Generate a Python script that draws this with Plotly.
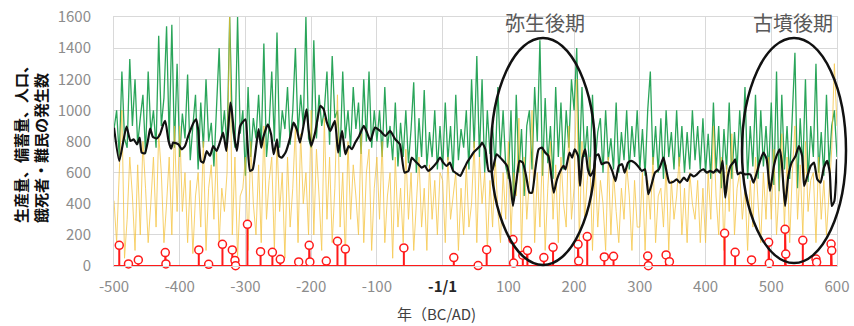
import plotly.graph_objects as go

# ---------------- data ----------------
X_RANGE = [-500, 600]
Y_RANGE = [0, 1600]

# production (green), read every 4 years
prod_years = list(range(-500, 601, 4)) + [600]
prod_values = [
    880, 1000, 700, 1250, 820, 760, 1330, 900, 1200, 780, 950, 1100, 720, 1250, 860, 1000, 760, 1480, 900, 1080, 1540, 800, 1550, 760, 1300,
    700, 980, 820, 1230, 680, 900, 1100, 620, 1050, 760, 1200, 800, 920, 640, 1020, 1400, 820, 1000, 760, 1600, 900, 760, 1600, 850, 1000,
    580, 1150, 700, 950, 820, 1100, 760, 1430, 700, 900, 1250, 800, 1500, 760, 1000, 880, 1150, 780, 1000, 1400, 850, 1100, 900, 1600, 820,
    760, 1450, 820, 1100, 900, 1000, 1250, 780, 1350, 950, 1000, 700, 1250, 820, 1000, 760, 1150, 880, 1050, 720, 1200, 800, 1250, 760, 1000,
    800, 1000, 700, 1150, 760, 900, 680, 1050, 640, 920, 700, 1000, 660, 880, 1180, 600, 950, 700, 1130, 640, 860, 700, 1000, 620, 900,
    620, 1050, 680, 900, 600, 1100, 680, 880, 760, 1000, 620, 1200, 760, 1350, 700, 1200, 600, 1000, 720, 900, 640, 1150, 700, 1000, 640,
    560, 1000, 420, 1100, 600, 880, 450, 900, 1000, 620, 1150, 800, 1450, 580, 1080, 660, 900, 560, 1150, 700, 1050, 620, 1000, 760, 1200,
    1000, 1400, 620, 1150, 700, 900, 580, 1100, 650, 860, 950, 600, 1000, 680, 820, 620, 1050, 600, 860, 680, 1000, 620, 900, 700, 1000,
    620, 880, 580, 1000, 1250, 650, 900, 600, 950, 560, 1000, 700, 860, 620, 1000, 640, 900, 600, 860, 620, 1000, 680, 900, 620, 950,
    600, 850, 560, 1050, 600, 900, 500, 880, 620, 1050, 560, 860, 620, 1000, 700, 1150, 560, 900, 640, 1100, 560, 1000, 640, 900, 600,
    1050, 520, 1250, 480, 1100, 620, 900, 560, 1000, 1370, 500, 950, 620, 1200, 540, 900, 700, 1300, 600, 860, 580, 1100, 640, 900, 1000,
    700,
]

# stock (yellow), read every 4 years
stock_years = list(range(-500, 601, 4)) + [600]
stock_values = [
    420, 150, 600, 1000, 50, 300, 700, 450, 100, 650, 200, 800, 500, 150, 400, 700, 250, 850, 600, 150, 400, 700, 200, 900, 350,
    900, 350, 600, 150, 550, 80, 450, 600, 250, 800, 100, 500, 650, 300, 750, 150, 500, 350, 600, 1600, 200, 700, 50, 450, 500,
    700, 100, 800, 400, 200, 650, 150, 900, 300, 550, 700, 100, 800, 350, 600, 50, 700, 250, 500, 900, 150, 850, 400, 600, 200,
    1000, 200, 750, 450, 100, 950, 300, 700, 150, 500, 1100, 250, 600, 50, 800, 300, 650, 450, 200, 850, 150, 600, 750, 100, 500,
    700, 300, 800, 150, 450, 600, 50, 700, 250, 500, 150, 750, 300, 600, 100, 450, 700, 250, 500, 100, 650, 300, 550, 200, 600,
    550, 150, 700, 300, 450, 600, 100, 500, 200, 650, 250, 400, 800, 150, 700, 400, 600, 100, 550, 250, 700, 350, 150, 600, 300,
    800, 200, 600, 450, 950, 100, 700, 300, 550, 1000, 150, 600, 250, 750, 100, 500, 800, 300, 650, 150, 700, 400, 250, 900, 300,
    500, 1200, 150, 800, 300, 550, 700, 100, 650, 250, 550, 400, 100, 700, 200, 600, 350, 150, 500, 300, 650, 450, 100, 550, 250,
    250, 600, 100, 550, 300, 700, 150, 450, 500, 250, 650, 100, 550, 300, 450, 700, 200, 500, 150, 600, 400, 300, 550, 150, 500,
    150, 600, 300, 900, 450, 200, 700, 100, 650, 350, 850, 200, 500, 600, 300, 500, 100, 550, 250, 700, 400, 150, 600, 300, 700,
    300, 750, 200, 500, 850, 250, 700, 150, 600, 900, 300, 650, 200, 800, 350, 550, 600, 150, 700, 300, 550, 200, 450, 750, 1300,
    900,
]

pop_years = [
    -500, -492, -481, -475, -470, -465, -461, -458, -453, -448, -445, -441, -435, -430, -425, -422, -417, -413,
    -410, -402, -397, -392, -387, -379, -375, -372, -368, -364, -359, -354, -349, -344, -339, -334, -329, -323,
    -321, -317, -313, -308, -300, -297, -293, -289, -283, -280, -276, -273, -266, -261, -257, -252, -249, -245,
    -239, -232, -227, -222, -217, -210, -207, -204, -200, -194, -186, -181, -176, -171, -164, -159, -153, -148,
    -143, -138, -133, -127, -120, -115, -110, -103, -95, -87, -80, -72, -65, -58, -52, -47, -42, -37, -32, -27,
    -22, -17, -9, -4, 1, 6, 11, 16, 23, 27, 32, 37, 42, 47, 52, 57, 60, 65, 70, 75, 82, 90, 98, 103, 107, 112,
    117, 122, 127, 132, 136, 141, 146, 151, 156, 161, 169, 174, 179, 184, 187, 193, 197, 201, 206, 209, 213,
    217, 221, 225, 230, 233, 237, 242, 247, 252, 258, 263, 268, 273, 277, 282, 287, 292, 297, 303, 308, 313,
    318, 323, 329, 333, 336, 340, 345, 351, 356, 361, 367, 372, 377, 382, 387, 392, 397, 402, 407, 412, 417,
    422, 426, 430, 434, 438, 442, 445, 449, 453, 460, 468, 473, 478, 483, 488, 493, 498, 504, 508, 513, 516,
    521, 526, 531, 537, 542, 547, 550, 555, 560, 565, 570, 575, 580, 585, 589, 592, 596, 600,
]
pop_values = [
    889, 675, 896, 803, 814, 782, 825, 729, 724, 814, 883, 831, 819, 846, 911, 932, 804, 754,
    793, 782, 750, 771, 836, 921, 943, 879, 675, 664, 739, 707, 771, 739, 793, 857, 739, 1050,
    1007, 836, 739, 900, 943, 793, 611, 621, 793, 879, 761, 825, 911, 846, 718, 814, 707, 696,
    729, 825, 921, 879, 793, 943, 1007, 879, 771, 857, 1029, 1007, 921, 868, 932, 729, 868, 718,
    771, 750, 793, 836, 900, 857, 804, 889, 868, 836, 868, 814, 782, 600, 611, 696, 675, 654, 632, 643,
    611, 626, 664, 696, 664, 643, 664, 611, 589, 579, 621, 664, 696, 729, 750, 771, 793, 750, 611, 607, 718, 686, 643, 536, 386, 536,
    675, 664, 579, 471, 471, 621, 750, 761, 729, 707, 471, 557, 611, 643, 621, 729, 696, 750, 707, 514, 696,
    750, 621, 579, 621, 707, 718, 654, 664, 664, 611, 546, 643, 654, 600, 664, 675, 664, 643, 611, 621, 461,
    525, 600, 621, 664, 696, 621, 536, 541, 557, 536, 568, 546, 589, 575, 589, 611, 621, 600, 611, 600, 621,
    600, 675, 439, 579, 643, 664, 686, 589, 600, 589, 589, 536, 600, 675, 729, 686, 482, 643, 707, 750, 664,
    386, 579, 664, 707, 771, 707, 514, 579, 643, 664, 557, 536, 632, 675, 600, 386, 418, 686,
]

famine_years = [
    -492, -478, -463, -422, -421, -371, -356, -335, -320, -316, -315, -297, -277, -259, -247, -219, -203, -202,
    -177, -160, -148, -59, 17, 54, 67, 107, 108, 122, 129, 154, 168, 206, 207, 220, 246, 260, 312, 313, 340,
    345, 429, 445, 470, 496, 497, 521, 522, 548, 568, 569, 591, 592,
]
famine_values = [
    133, 13, 39, 86, 13, 103, 11, 139, 103, 36, 2, 268, 92, 88, 43, 26, 133, 26,
    32, 159, 109, 116, 54, 3, 105, 170, 19, 69, 99, 54, 120, 139, 32, 189, 58, 62, 64, 2, 71,
    28, 210, 88, 39, 152, 17, 236, 77, 165, 45, 24, 141, 99,
]

x_tick_vals = list(range(-500, 601, 100))
x_tick_text = ["-500", "-400", "-300", "-200", "-100", "<b><span style='color:#262626'>-1/1</span></b>",
               "100", "200", "300", "400", "500", "600"]
y_tick_vals = list(range(0, 1601, 200))

period_labels = ["弥生後期", "古墳後期"]

n = min(len(prod_years), len(prod_values))
prod_years, prod_values = prod_years[:n], prod_values[:n]
n = min(len(stock_years), len(stock_values))
stock_years, stock_values = stock_years[:n], stock_values[:n]

# ---------------- figure ----------------
FONT = "Noto Sans CJK JP"
fig = go.Figure()

fig.add_trace(go.Scatter(x=prod_years, y=prod_values, mode="lines",
                         line=dict(color="#2AA55A", width=1.3), hoverinfo="skip", showlegend=False))
fig.add_trace(go.Scatter(x=stock_years, y=stock_values, mode="lines", opacity=0.8,
                         line=dict(color="#F5C030", width=0.9), hoverinfo="skip", showlegend=False))
fig.add_trace(go.Scatter(x=pop_years, y=pop_values, mode="lines",
                         line=dict(color="#111111", width=2.2, shape="spline", smoothing=0.5),
                         hoverinfo="skip", showlegend=False))

# famine stems with baseline, built from the data arrays
sx, sy = [X_RANGE[0]], [0]
for yr, v in zip(famine_years, famine_values):
    sx += [yr, yr, yr]
    sy += [0, v, 0]
sx.append(X_RANGE[1])
sy.append(0)
fig.add_trace(go.Scatter(x=sx, y=sy, mode="lines", line=dict(color="#FF1A1A", width=2),
                         hoverinfo="skip", showlegend=False, cliponaxis=False))
fig.add_trace(go.Scatter(x=famine_years, y=famine_values, mode="markers",
                         marker=dict(symbol="circle", size=8, color="white",
                                     line=dict(color="#FF1A1A", width=1.5)),
                         hoverinfo="skip", showlegend=False, cliponaxis=False))

L, R, T, B = 114, 17, 17, 60
W, H = 854, 326
pw, ph = W - L - R, H - T - B

def px_x(p):
    return (p - L) / pw

def px_y(p):
    return (H - B - p) / ph

fig.update_layout(
    template="none",
    width=W, height=H,
    margin=dict(l=L, r=R, t=T, b=B, autoexpand=False),
    paper_bgcolor="white", plot_bgcolor="white",
    font=dict(family=FONT, size=15, color="#8c8c8c"),
    xaxis=dict(range=X_RANGE, tickvals=x_tick_vals, ticktext=x_tick_text, automargin=False,
               showgrid=True, gridcolor="#d9d9d9", gridwidth=1, zeroline=False,
               showline=True, mirror=True, linecolor="#d9d9d9", linewidth=1,
               ticks="", ticklabelstandoff=7,
               tickfont=dict(family=FONT, size=15, color="#8c8c8c")),
    yaxis=dict(range=Y_RANGE, tickvals=y_tick_vals, automargin=False,
               showgrid=True, gridcolor="#d9d9d9", gridwidth=1, zeroline=False,
               showline=True, mirror=True, linecolor="#d9d9d9", linewidth=1,
               ticks="", ticklabelstandoff=19,
               tickfont=dict(family=FONT, size=15, color="#8c8c8c")),
    shapes=[
        dict(type="circle", xref="paper", yref="paper",
             x0=px_x(491), x1=px_x(595), y0=px_y(265), y1=px_y(38),
             line=dict(color="#111111", width=2.5)),
        dict(type="circle", xref="paper", yref="paper",
             x0=px_x(742), x1=px_x(846), y0=px_y(263), y1=px_y(38),
             line=dict(color="#111111", width=2.5)),
    ],
    annotations=[
        dict(text=period_labels[0], xref="paper", yref="paper", x=px_x(545), y=px_y(23),
             xanchor="center", yanchor="middle", showarrow=False,
             font=dict(family=FONT, size=20, color="#595959")),
        dict(text=period_labels[1], xref="paper", yref="paper", x=px_x(793), y=px_y(23),
             xanchor="center", yanchor="middle", showarrow=False,
             font=dict(family=FONT, size=20, color="#595959")),
        dict(text="<b>生産量、備蓄量、人口、<br>餓死者・難民の発生数</b>", xref="paper", yref="paper",
             x=px_x(30), y=px_y(141), xanchor="center", yanchor="middle", showarrow=False,
             textangle=-90, align="left",
             font=dict(family=FONT, size=15, color="#111111")),
        dict(text="年（BC/AD)", xref="paper", yref="paper", x=px_x(436), y=px_y(313),
             xanchor="center", yanchor="middle", showarrow=False,
             font=dict(family=FONT, size=15, color="#404040")),
    ],
)

fig.write_html("out.html", config={"displayModeBar": False},
               post_script="document.body.style.margin='0px';document.body.style.overflow='hidden';")
